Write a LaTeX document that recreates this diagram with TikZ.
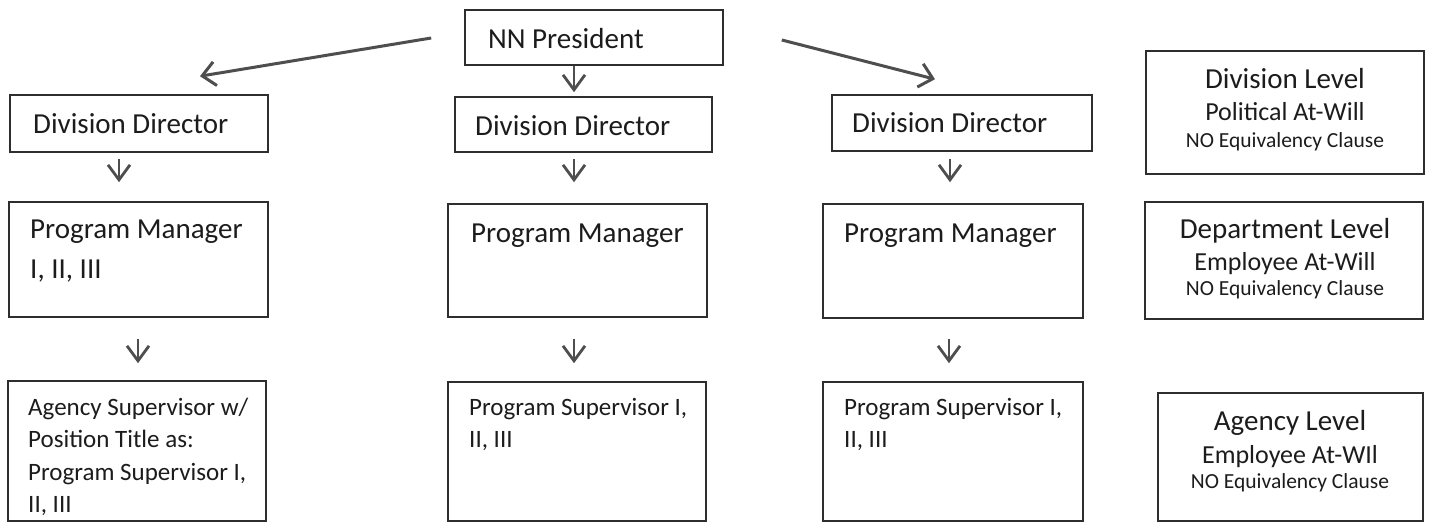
\documentclass[tikz,border=0pt]{standalone}
\usepackage{fontspec}
\setmainfont{Carlito}
\usetikzlibrary{arrows.meta}
\definecolor{ink}{HTML}{1C1C1C}
\definecolor{arrowgray}{HTML}{4E4E4E}
\definecolor{boxline}{HTML}{2E2E2E}
\begin{document}
\begin{tikzpicture}[x=1pt,y=-1pt,
  box/.style={draw=boxline, line width=1.6pt, inner sep=0pt, rectangle},
  txt/.style={anchor=base west, inner sep=0pt, text=ink},
  ctr/.style={anchor=base, inner sep=0pt, text=ink},
  big/.style={font=\fontsize{29}{29}\selectfont},
  mid/.style={font=\fontsize{25}{25}\selectfont},
  sub/.style={font=\fontsize{26}{26}\selectfont},
  small/.style={font=\fontsize{21.5}{21.5}\selectfont},
  longarr/.style={draw=arrowgray, line width=3pt, -{Straight Barb[length=13pt,width=24pt,line width=3pt]}},
  shortarr/.style={draw=arrowgray, line width=2.8pt, -{Straight Barb[length=15pt,width=22pt,line width=2.8pt]}}
]
\useasboundingbox (0,0) rectangle (1429,522);
\fill[white] (0,0) rectangle (1429,522);

% boxes
\node[box, minimum width=258pt, minimum height=55pt] (pres) at (594,37.5) {};
\node[box, minimum width=258pt, minimum height=57pt] (dd1) at (139,123.5) {};
\node[box, minimum width=257pt, minimum height=55pt] (dd2) at (583.5,124.5) {};
\node[box, minimum width=260pt, minimum height=56pt] (dd3) at (962,123) {};
\node[box, minimum width=278pt, minimum height=123pt] (lv1) at (1285,112.5) {};
\node[box, minimum width=259pt, minimum height=115pt] (pm1) at (138.5,259.5) {};
\node[box, minimum width=259pt, minimum height=113pt] (pm2) at (577.5,260.5) {};
\node[box, minimum width=260pt, minimum height=114pt] (pm3) at (953,261) {};
\node[box, minimum width=278pt, minimum height=117pt] (lv2) at (1284,260.5) {};
\node[box, minimum width=258pt, minimum height=140pt] (sp1) at (137,451) {};
\node[box, minimum width=258pt, minimum height=139pt] (sp2) at (577,451.5) {};
\node[box, minimum width=260pt, minimum height=139pt] (sp3) at (953,451.5) {};
\node[box, minimum width=265pt, minimum height=128pt] (lv3) at (1290.5,457) {};

% texts
\node[txt, big] (tpres) at (488,48) {NN President};
\node[txt, big] (tdd1) at (33,133) {Division Director};
\node[txt, big] (tdd2) at (475,135) {Division Director};
\node[txt, big] (tdd3) at (852,132) {Division Director};
\node[txt, big] (tpm1) at (30,238) {Program Manager};
\node[txt, big] (tpm1b) at (30,278) {I, II, III};
\node[txt, big] (tpm2) at (471,242) {Program Manager};
\node[txt, big] (tpm3) at (844,242) {Program Manager};
\node[txt, mid] (tsp1a) at (28,415) {Agency Supervisor w/};
\node[txt, mid] (tsp1b) at (28,447) {Position Title as:};
\node[txt, mid] (tsp1c) at (28,480) {Program Supervisor I,};
\node[txt, mid] (tsp1d) at (28,512) {II, III};
\node[txt, mid] (tsp2a) at (469,415) {Program Supervisor I,};
\node[txt, mid] (tsp2b) at (469,447) {II, III};
\node[txt, mid] (tsp3a) at (844,415) {Program Supervisor I,};
\node[txt, mid] (tsp3b) at (844,447) {II, III};

\node[ctr, big] (tlv1a) at (1285,88) {Division Level};
\node[ctr, sub] (tlv1b) at (1285,120) {Political At-Will};
\node[ctr, small] (tlv1c) at (1285,147) {NO Equivalency Clause};
\node[ctr, big] (tlv2a) at (1285,238) {Department Level};
\node[ctr, sub] (tlv2b) at (1285,270) {Employee At-Will};
\node[ctr, small] (tlv2c) at (1285,295) {NO Equivalency Clause};
\node[ctr, big] (tlv3a) at (1290,430) {Agency Level};
\node[ctr, sub] (tlv3b) at (1290,463) {Employee At-WIl};
\node[ctr, small] (tlv3c) at (1290,488) {NO Equivalency Clause};

% connectors
\draw[longarr] ([shift={(-33,0.5)}]pres.west) -- ([shift={(61,-18)}]dd1.north);
\draw[longarr] ([shift={(58,2.5)}]pres.east) -- ([shift={(-27,-15)}]dd3.north);
\draw[shortarr] ([shift={(-20,0)}]pres.south) -- ([shift={(-9.5,-4)}]dd2.north);

\draw[shortarr] ([shift={(-20,6)}]dd1.south) -- ([shift={(-19.5,-19)}]pm1.north);
\draw[shortarr] ([shift={(-9.5,6)}]dd2.south) -- ([shift={(-3.5,-21)}]pm2.north);
\draw[shortarr] ([shift={(-12,7)}]dd3.south) -- ([shift={(-3,-21)}]pm3.north);

\draw[shortarr] ([shift={(-0.5,21)}]pm1.south) -- ([shift={(1,-17)}]sp1.north);
\draw[shortarr] ([shift={(-3.5,21)}]pm2.south) -- ([shift={(-3,-18)}]sp2.north);
\draw[shortarr] ([shift={(-4,20)}]pm3.south) -- ([shift={(-4,-18)}]sp3.north);
\end{tikzpicture}
\end{document}
